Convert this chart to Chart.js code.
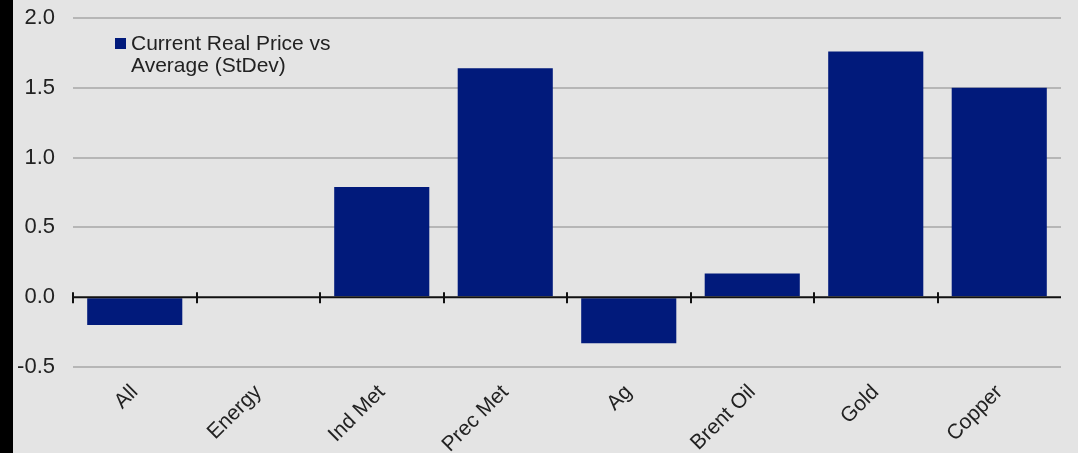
<!DOCTYPE html>
<html>
<head>
<meta charset="utf-8">
<script src="https://cdn.jsdelivr.net/npm/chart.js@4"></script>
<style>
  html, body { margin: 0; padding: 0; background: #000; }
  #wrap { position: absolute; left: 13px; top: 0; width: 1065px; height: 453px; background: #e4e4e4; }
</style>
</head>
<body>
<div id="wrap"><canvas id="barChart"></canvas></div>
<script>
// data
const categories = ['All', 'Energy', 'Ind Met', 'Prec Met', 'Ag', 'Brent Oil', 'Gold', 'Copper'];
const priceVsAvg = [-0.20, 0, 0.79, 1.64, -0.33, 0.17, 1.76, 1.50];
const yTicks = [-0.5, 0.0, 0.5, 1.0, 1.5, 2.0];
const seriesName = ['Current Real Price vs', 'Average (StDev)'];

const NAVY = '#011a7b';
const FONT = '"Liberation Sans", Arial, sans-serif';

// zero line with boundary tick marks, drawn over the bars
const zeroLine = {
  id: 'zeroLine',
  afterDatasetsDraw(chart) {
    const ctx = chart.ctx, x = chart.scales.x, y = chart.scales.y, a = chart.chartArea;
    const y0 = y.getPixelForValue(0);
    const half = (x.getPixelForValue(1) - x.getPixelForValue(0)) / 2;
    ctx.save();
    ctx.strokeStyle = '#111';
    ctx.lineWidth = 2;
    ctx.beginPath();
    ctx.moveTo(a.left, y0);
    ctx.lineTo(a.right, y0);
    for (let i = 0; i < categories.length; i++) {
      const xb = Math.round(x.getPixelForValue(i) - half);
      ctx.moveTo(xb, y0 - 5);
      ctx.lineTo(xb, y0 + 6);
    }
    ctx.stroke();
    ctx.restore();
  }
};

// two-line legend in the top-left corner of the plot
const boxLegend = {
  id: 'boxLegend',
  afterDraw(chart) {
    const ctx = chart.ctx, a = chart.chartArea;
    const lx = a.left + 42, ly = a.top + 20;
    ctx.save();
    ctx.fillStyle = NAVY;
    ctx.fillRect(lx, ly, 11, 11);
    ctx.fillStyle = '#222';
    ctx.font = '21px ' + FONT;
    ctx.textBaseline = 'alphabetic';
    seriesName.forEach((t, i) => ctx.fillText(t, lx + 16, ly + 12 + i * 22));
    ctx.restore();
  }
};

new Chart(document.getElementById('barChart'), {
  type: 'bar',
  data: {
    labels: categories,
    datasets: [{
      label: seriesName.join(' '),
      data: priceVsAvg,
      backgroundColor: NAVY,
      borderWidth: 0,
      categoryPercentage: 1.0,
      barPercentage: 0.77
    }]
  },
  options: {
    responsive: true,
    maintainAspectRatio: false,
    animation: false,
    layout: { autoPadding: false, padding: { top: 18, right: 17, left: 0, bottom: 0 } },
    plugins: {
      legend: { display: false },
      tooltip: { enabled: false }
    },
    scales: {
      x: {
        grid: { display: false },
        border: { display: false },
        ticks: {
          autoSkip: false,
          minRotation: 45,
          maxRotation: 45,
          color: '#222',
          font: { family: FONT, size: 21 },
          padding: 5
        },
        afterFit(scale) { scale.height = 86; }
      },
      y: {
        min: yTicks[0],
        max: yTicks[yTicks.length - 1],
        afterBuildTicks(scale) { scale.ticks = yTicks.map(v => ({ value: v })); },
        grid: {
          drawTicks: false,
          lineWidth: 2,
          color: c => c.tick && c.tick.value === 0 ? 'rgba(0,0,0,0)' : '#b6b6b6'
        },
        border: { display: false },
        ticks: {
          padding: 18,
          color: '#222',
          font: { family: FONT, size: 22 },
          callback: v => Number(v).toFixed(1)
        },
        afterFit(scale) {
          scale.width = 60;
          scale.paddingTop = 0;
          scale.paddingBottom = 0;
        }
      }
    }
  },
  plugins: [zeroLine, boxLegend]
});
</script>
</body>
</html>
